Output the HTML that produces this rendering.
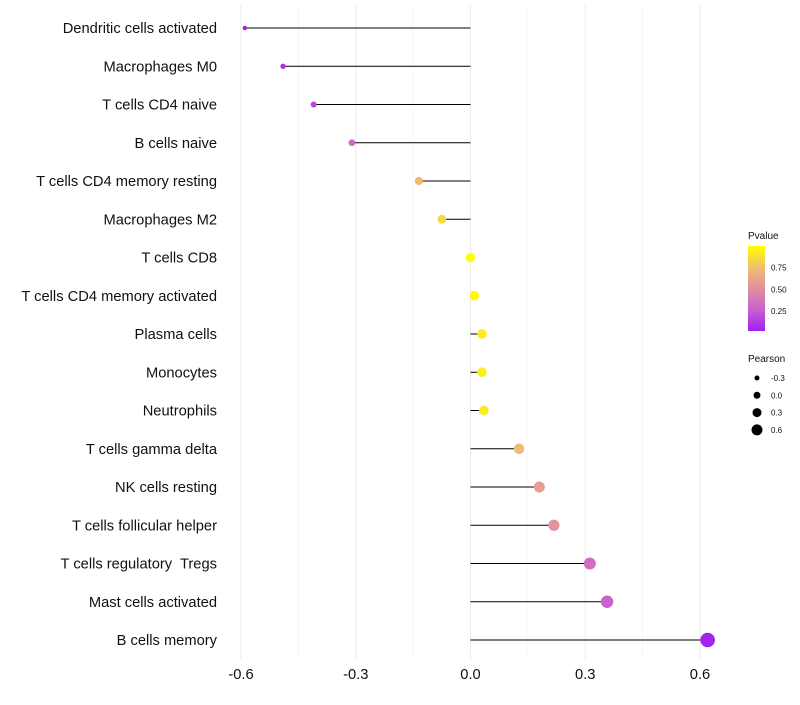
<!DOCTYPE html>
<html><head><meta charset="utf-8"><style>
body{margin:0;background:#fff;font-family:"Liberation Sans",sans-serif}
text{white-space:pre}
</style></head><body>
<svg id="c" width="800" height="700" xmlns="http://www.w3.org/2000/svg"></svg>
<script>
const categories=["Dendritic cells activated","Macrophages M0","T cells CD4 naive","B cells naive","T cells CD4 memory resting","Macrophages M2","T cells CD8","T cells CD4 memory activated","Plasma cells","Monocytes","Neutrophils","T cells gamma delta","NK cells resting","T cells follicular helper","T cells regulatory  Tregs","Mast cells activated","B cells memory"];
const pearson=[-0.59,-0.49,-0.41,-0.31,-0.135,-0.075,0.0,0.01,0.03,0.03,0.035,0.127,0.18,0.218,0.312,0.357,0.62];
const pvalue=[0.02,0.06,0.15,0.3,0.72,0.85,1.0,0.97,0.92,0.93,0.92,0.72,0.58,0.52,0.32,0.27,0.02];
const xTicks=[-0.6,-0.3,0.0,0.3,0.6];
const xTickLabels=["-0.6","-0.3","0.0","0.3","0.6"];
const legendP=[0.75,0.5,0.25];
const legendR=[-0.3,0.0,0.3,0.6];
const legendRLabels=["-0.3","0.0","0.3","0.6"];

const svg=document.getElementById('c');
const NS="http://www.w3.org/2000/svg";
const x=v=>470.5+v*382.5;
const y=i=>28+i*38.25;
const rad=v=>4.7+4.2*v;
const stops=[[0,[160,32,240]],[0.25,[200,96,208]],[0.5,[224,144,159]],[0.75,[240,192,112]],[1,[255,255,0]]];
function col(p){for(let k=1;k<stops.length;k++){if(p<=stops[k][0]){const a=stops[k-1],b=stops[k],t=(p-a[0])/(b[0]-a[0]);return 'rgb('+a[1].map((c,j)=>Math.round(c+(b[1][j]-c)*t)).join(',')+')';}}return 'rgb(255,255,0)';}
function el(t,a,txt){const e=document.createElementNS(NS,t);for(const k in a)e.setAttribute(k,a[k]);if(txt!==undefined)e.textContent=txt;svg.appendChild(e);return e;}

[-0.45,-0.15,0.15,0.45].forEach(v=>{const g=el('line',{x1:x(v),x2:x(v),y1:5,y2:660,stroke:'#f3f3f3','stroke-width':0.6});

});
xTicks.forEach((v,i)=>{const g=el('line',{x1:x(v),x2:x(v),y1:5,y2:660,stroke:'#ebebeb','stroke-width':1});


const t=el('text',{x:x(v),y:679,'text-anchor':'middle','font-size':14.7,fill:'#111'},xTickLabels[i]);

});

categories.forEach((c,i)=>{
const t=el('text',{x:217,y:y(i)+5,'text-anchor':'end','font-size':14.7,fill:'#111'},c);


const l=el('line',{x1:x(0),x2:x(pearson[i]),y1:y(i),y2:y(i),stroke:'#000','stroke-width':1});


const p=el('circle',{cx:x(pearson[i]),cy:y(i),r:rad(pearson[i]),fill:col(pvalue[i])});


});

const lt=el('text',{x:748,y:239,'font-size':10,fill:'#111'},'Pvalue');


const defs=el('defs',{});
const lg=document.createElementNS(NS,'linearGradient');lg.setAttribute('id','g');lg.setAttribute('x1','0');lg.setAttribute('y1','1');lg.setAttribute('x2','0');lg.setAttribute('y2','0');
stops.forEach(s=>{const st=document.createElementNS(NS,'stop');st.setAttribute('offset',s[0]);st.setAttribute('stop-color',col(s[0]));lg.appendChild(st);});
defs.appendChild(lg);
const cbTop=246,cbBot=331,py=p=>cbBot-(p-0.02)/(1-0.02)*(cbBot-cbTop);
const cb=el('rect',{x:748,y:cbTop,width:17,height:cbBot-cbTop,fill:'url(#g)'});


legendP.forEach(p=>{const t=el('text',{x:771,y:py(p)+3,'font-size':8,fill:'#111'},p.toFixed(2));

});
const rt=el('text',{x:748,y:362,'font-size':10,fill:'#111'},'Pearson');


legendR.forEach((v,i)=>{const cy=378+i*17.3;
const c=el('circle',{cx:757,cy:cy,r:3.5+v*3.3,fill:'#000'});


const t=el('text',{x:771,y:cy+3,'font-size':8,fill:'#111'},legendRLabels[i]);

});
</script>
</body></html>
